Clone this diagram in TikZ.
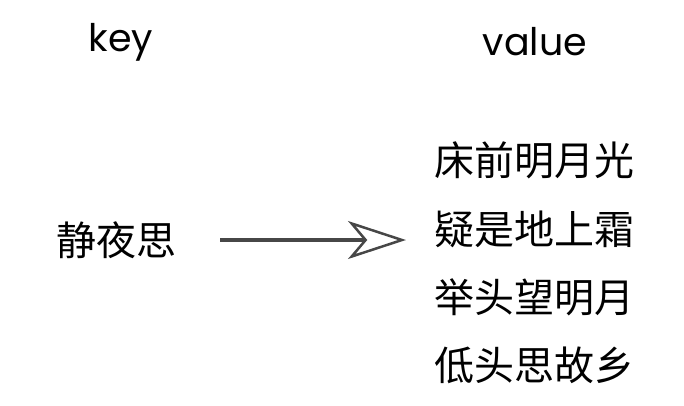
\documentclass[tikz,border=0pt]{standalone}
\usepackage{fontspec}
\setmainfont{Poppins}
\newfontfamily\cjk{Noto Sans CJK SC}
\usetikzlibrary{arrows.meta}
\begin{document}
\begin{tikzpicture}[x=1pt,y=-1pt,
  hdr/.style={font=\fontsize{38}{44}\selectfont, inner sep=0pt},
  zh/.style={font=\cjk\fontsize{40}{48}\selectfont, inner sep=0pt},
  conn/.style={draw=black!72, line width=4.5pt,
    -{Stealth[open, length=58pt, width=38pt, inset=16pt, line width=2.5pt]}}]
\useasboundingbox (0,0) rectangle (684,405);
\node[hdr] (key) at (121,42) {key};
\node[hdr] (val) at (535,42) {value};
\node[zh] (k) at (116,240) {静夜思};
\node[zh] (v1) at (534,160) {床前明月光};
\node[zh] (v2) at (534,229) {疑是地上霜};
\node[zh] (v3) at (534,297) {举头望明月};
\node[zh] (v4) at (534,365) {低头思故乡};
\coordinate (a0) at (220,240);
\coordinate (a1) at (406,240);
\draw[conn] (a0) -- (a1);
\end{tikzpicture}
\end{document}
